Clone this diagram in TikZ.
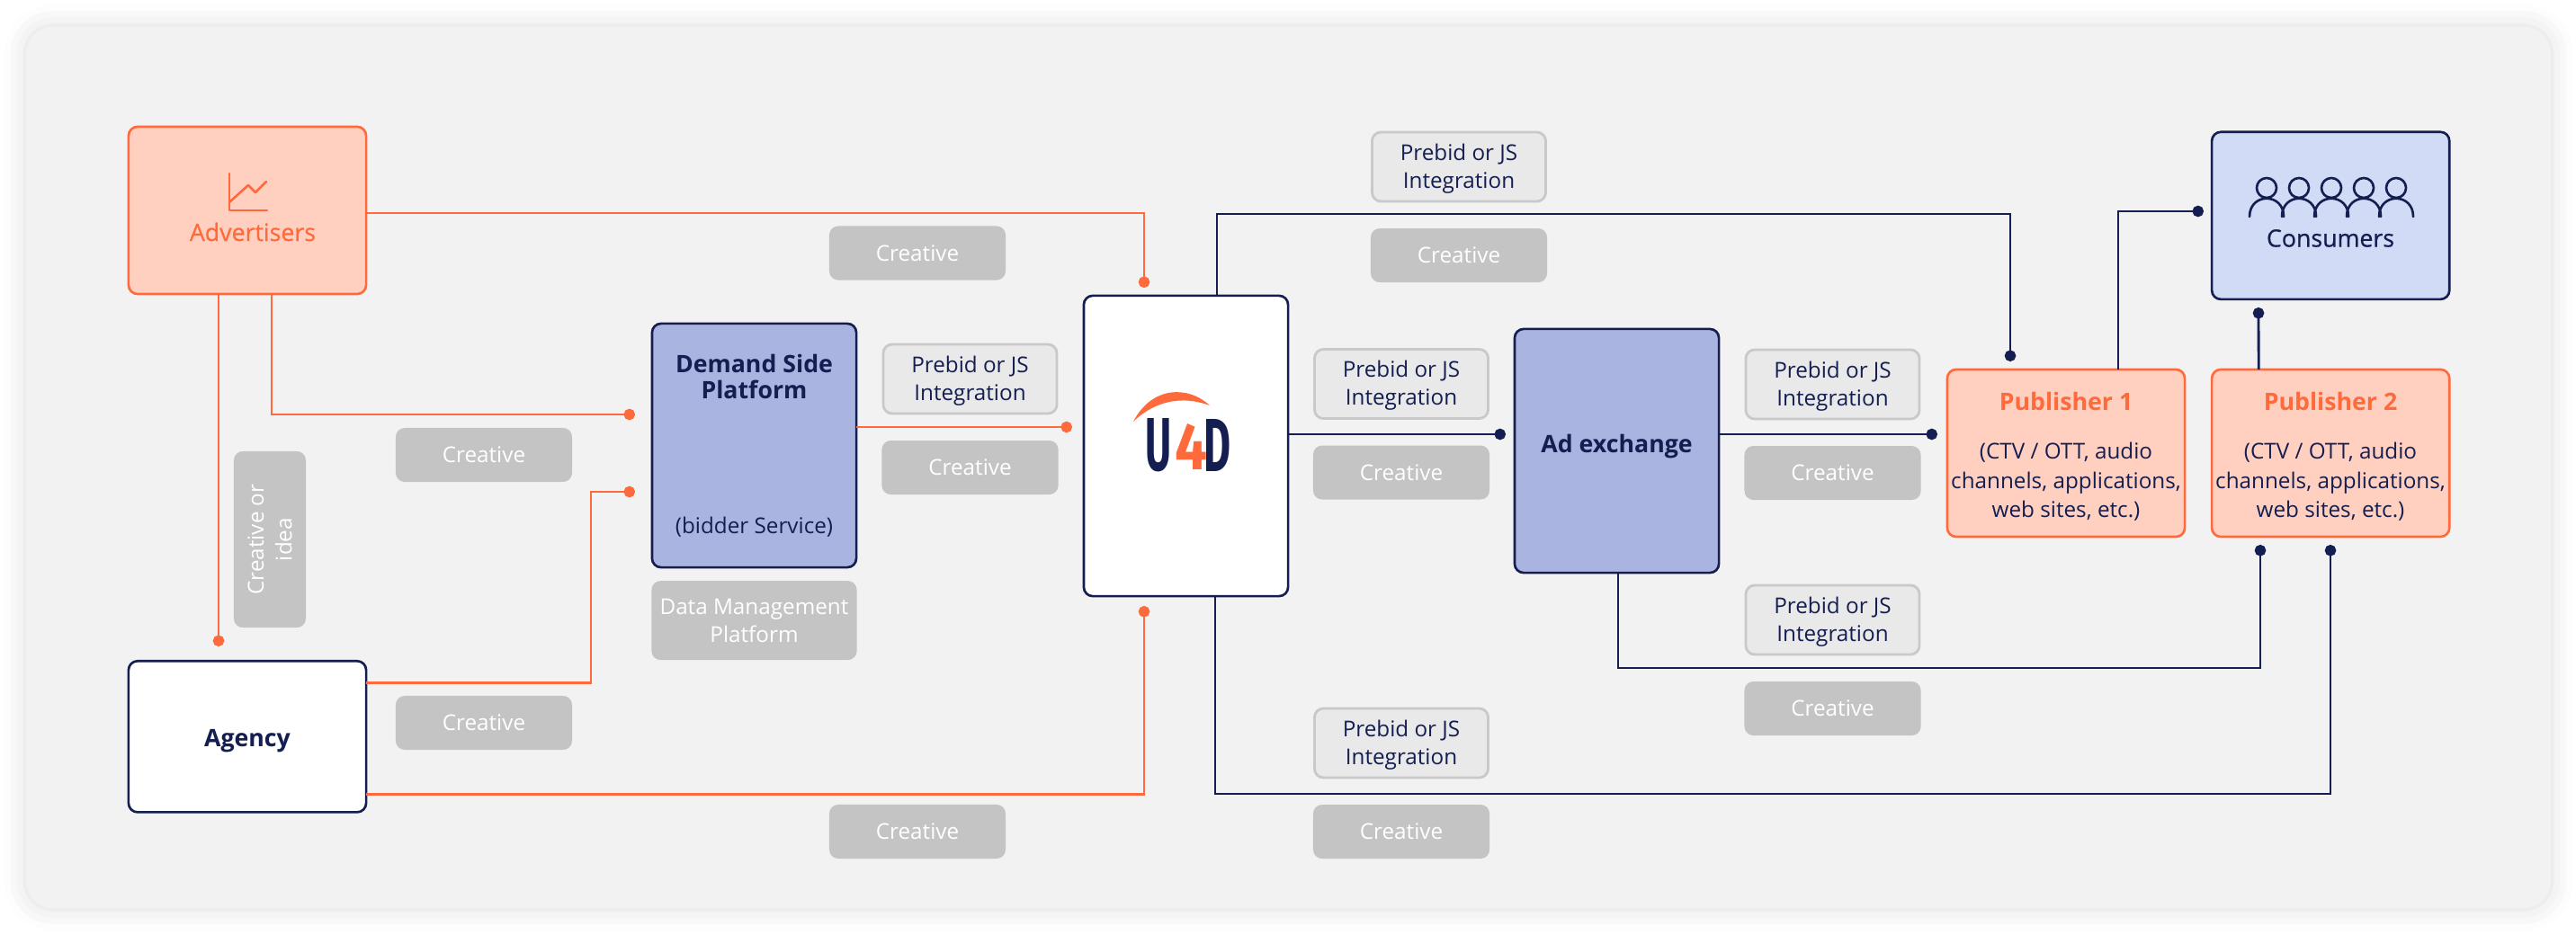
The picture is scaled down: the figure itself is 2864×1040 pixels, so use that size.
\documentclass[tikz,border=0pt]{standalone}
\usepackage{fontspec}
\usepackage{graphicx}
\usetikzlibrary{arrows.meta,positioning,calc,shadows.blur}
\setmainfont{Open Sans}
\newfontfamily\semifont[FakeBold=0.6]{Open Sans}
\newfontfamily\logofont{Fira Sans}
\newcommand{\bodysize}{\fontsize{6.9}{8.9}\selectfont}
\newcommand{\titlesize}{\fontsize{7.6}{8.3}\selectfont}
\definecolor{panelgrey}{HTML}{F2F2F2}
\definecolor{chipgrey}{HTML}{C4C4C4}
\definecolor{chiplight}{HTML}{E9E9E9}
\definecolor{chipedge}{HTML}{C9C9C9}
\definecolor{linkorange}{HTML}{FF6A3C}
\definecolor{softorange}{HTML}{FFD0C0}
\definecolor{linknavy}{HTML}{141E50}
\definecolor{midblue}{HTML}{A9B4E0}
\definecolor{softblue}{HTML}{D1DBF6}

\begin{document}
\begin{tikzpicture}[
    x=0.01cm, y=-0.01cm,
    node distance=0.3cm,
    font=\bodysize,
    every node/.append style={inner sep=0pt, outer sep=0pt, align=center},
    panel/.style={rectangle, rounded corners=0.3cm, fill=panelgrey, minimum width=28.05cm, minimum height=9.8cm, blur shadow={shadow xshift=0pt, shadow yshift=0pt, shadow blur radius=7pt, shadow opacity=14}},
    box/.style={rectangle, rounded corners=0.1cm, line width=0.75pt, minimum width=2.64cm, minimum height=1.86cm},
    orangebox/.style={box, draw=linkorange, fill=softorange},
    tallbox/.style={box, draw=linknavy, fill=midblue, minimum width=2.27cm, minimum height=2.71cm},
    whitebox/.style={box, draw=linknavy, fill=white},
    chip/.style={rectangle, rounded corners=0.1cm, fill=chipgrey, text=white, minimum width=1.96cm, minimum height=0.6cm},
    chipline/.style={rectangle, rounded corners=0.1cm, fill=chiplight, draw=chipedge, line width=0.8pt, text=linknavy, minimum width=1.93cm, minimum height=0.77cm, text depth=0.02cm},
    title/.style={font=\titlesize\bfseries, text=linknavy},
    icon/.style={line width=0.75pt, line cap=round, line join=round},
    linkor/.style={-{Circle[length=0.125cm]}, line width=0.8pt, draw=linkorange, shorten >=-0.06cm},
    linkna/.style={-{Circle[length=0.125cm]}, line width=0.8pt, draw=linknavy, shorten >=-0.06cm}
  ]
    \useasboundingbox (0,0) rectangle (2864,1040);
    \node[panel] (back) at (1432.5,520) {};

    \coordinate (dotu4dtop) at (1272,314);
    \coordinate (dotu4dbot) at (1272,680);
    \coordinate (dotu4dleft) at (1186,475);
    \coordinate (dotdspa) at (700,461);
    \coordinate (dotdspb) at (700,547);
    \coordinate (dotagency) at (243,713);
    \coordinate (dotadex) at (1668,483);
    \coordinate (dotpuba) at (2148,483);
    \coordinate (dotpubtop) at (2235,396);
    \coordinate (dotpubbota) at (2513,612);
    \coordinate (dotpubbotb) at (2591,612);
    \coordinate (dotconsa) at (2444,235);
    \coordinate (dotconsb) at (2511,348);

    \node[orangebox] (adv) at (275,234) {};
    \node[whitebox, below=4.08cm of adv, minimum height=1.68cm] (agency) {};
    \node[tallbox] (dsp) at (838.5,495.5) {};
    \node[chip, below=0.15cm of dsp, minimum width=2.28cm, minimum height=0.88cm] (dmp) {Data Management\\Platform};
    \node[whitebox, minimum width=2.27cm, minimum height=3.34cm] (u4d) at (1318.5,496) {};
    \node[tallbox] (adex) at (1797.5,501.5) {};
    \node[orangebox] (pub1) at (2297,504) {};
    \node[orangebox, right=0.3cm of pub1] (pub2) {};
    \node[box, draw=linknavy, fill=softblue, above=0.78cm of pub2] (cons) {};

    \node[text=linkorange, font=\titlesize\semifont] (advlabel) at (281,258) {Advertisers};
    \node[text=linknavy, font=\titlesize\semifont] (conslabel) at (2591,265) {Consumers};
    \node[title] (agencylabel) at (275,824) {Agency};
    \node[title] (dsptitle) at (838.5,419) {Demand Side\\Platform};
    \node[text=linknavy] (dspsub) at (838.5,586) {(bidder Service)};
    \node[title] (adexlabel) at (1797.5,497) {Ad exchange};
    \node[font=\titlesize\bfseries, text=linkorange] (pub1title) at (2297,446) {Publisher 1};
    \node[text=linknavy, font=\fontsize{6.9}{9.2}\selectfont] (pub1text) at (2297,536) {(CTV / OTT, audio\\channels, applications,\\web sites, etc.)};
    \node[font=\titlesize\bfseries, text=linkorange] (pub2title) at (2591,446) {Publisher 2};
    \node[text=linknavy, font=\fontsize{6.9}{9.2}\selectfont] (pub2text) at (2591,536) {(CTV / OTT, audio\\channels, applications,\\web sites, etc.)};

    \node[chipline] (prebidtop) at (1622,185.5) {Prebid or JS\\Integration};
    \node[chip, below=of prebidtop] (creativetop) {Creative};
    \node[chipline] (prebiddsp) at (1078.5,421.5) {Prebid or JS\\Integration};
    \node[chip, below=of prebiddsp] (creativedsp) {Creative};
    \node[chipline] (prebidu4d) at (1558,427) {Prebid or JS\\Integration};
    \node[chip, below=of prebidu4d] (creativeu4d) {Creative};
    \node[chipline] (prebidadex) at (2037.5,427.5) {Prebid or JS\\Integration};
    \node[chip, below=of prebidadex] (creativeadex) {Creative};
    \node[chipline] (prebidpub) at (2037.5,689.5) {Prebid or JS\\Integration};
    \node[chip, below=of prebidpub] (creativepub) {Creative};
    \node[chipline] (prebidbot) at (1558,826.5) {Prebid or JS\\Integration};
    \node[chip, below=of prebidbot] (creativebot) {Creative};
    \node[chip] (creativeadv) at (1020,281.5) {Creative};
    \node[chip] (creativeagency) at (1020,925) {Creative};
    \node[chip] (creativedspa) at (538,506) {Creative};
    \node[chip] (creativedspb) at (538,804) {Creative};
    \node[chip, rotate=90, minimum height=0.8cm] (idea) at (300,600) {Creative or\\idea};

    \node[text=linknavy] (logou) at (1288,495) {\resizebox{0.29cm}{0.58cm}{\logofont\bfseries U}};
    \node[text=linknavy] (logod) at (1353,495) {\resizebox{0.30cm}{0.58cm}{\logofont\bfseries D}};
    \node[text=linkorange] (logofour) at (1324,497) {\resizebox{0.36cm}{0.51cm}{\logofont\bfseries 4}};
    \fill[linkorange] (1260,469) .. controls (1280,430) and (1320,428) .. (1345,451) .. controls (1315,440) and (1285,445) .. (1260,469) -- cycle;

    \draw[icon, draw=linkorange] (255,193) -- (255,234) -- (297,234);
    \draw[icon, draw=linkorange] (255,225) -- (276,206) -- (284,214) -- (296,202);
    \foreach \px in {2520,2556,2592,2628,2664} {
      \draw[icon, draw=linknavy] (\px,209) circle (0.11cm);
      \draw[icon, draw=linknavy] (\px-19,241) .. controls (\px-19,214) and (\px+19,214) .. (\px+19,241);
    }

    \draw[linkor] ($(adv.east)+(0,3)$) -| (dotu4dtop);
    \draw[linkor] ($(adv.south)+(27,0)$) |- (dotdspa);
    \draw[linkor] ($(adv.south)+(-32,0)$) -- (dotagency);
    \draw[linkor] ($(agency.east)+(0,-60)$) -| ($(dotdspb)+(-43,0)$) -- (dotdspb);
    \draw[linkor] ($(agency.east)+(0,64)$) -| (dotu4dbot);
    \draw[linkor] ($(dsp.east)+(0,-20.5)$) -- (dotu4dleft);
    \draw[linkna] ($(u4d.east)+(0,-13)$) -- (dotadex);
    \draw[linkna] ($(adex.east)+(0,-18.5)$) -- (dotpuba);
    \draw[linkna] ($(u4d.north)+(34.5,0)$) |- ($(dotpubtop)+(0,-158)$) -- (dotpubtop);
    \draw[linkna] ($(u4d.south)+(32.5,0)$) |- ($(dotpubbotb)+(0,271)$) -- (dotpubbotb);
    \draw[linkna] ($(adex.south)+(1.5,0)$) |- ($(dotpubbota)+(0,131)$) -- (dotpubbota);
    \draw[linkna] ($(pub1.north)+(58,0)$) |- (dotconsa);
    \draw[linkna] ($(pub2.north)+(-80,0)$) -- (dotconsb);
  \end{tikzpicture}
\end{document}
